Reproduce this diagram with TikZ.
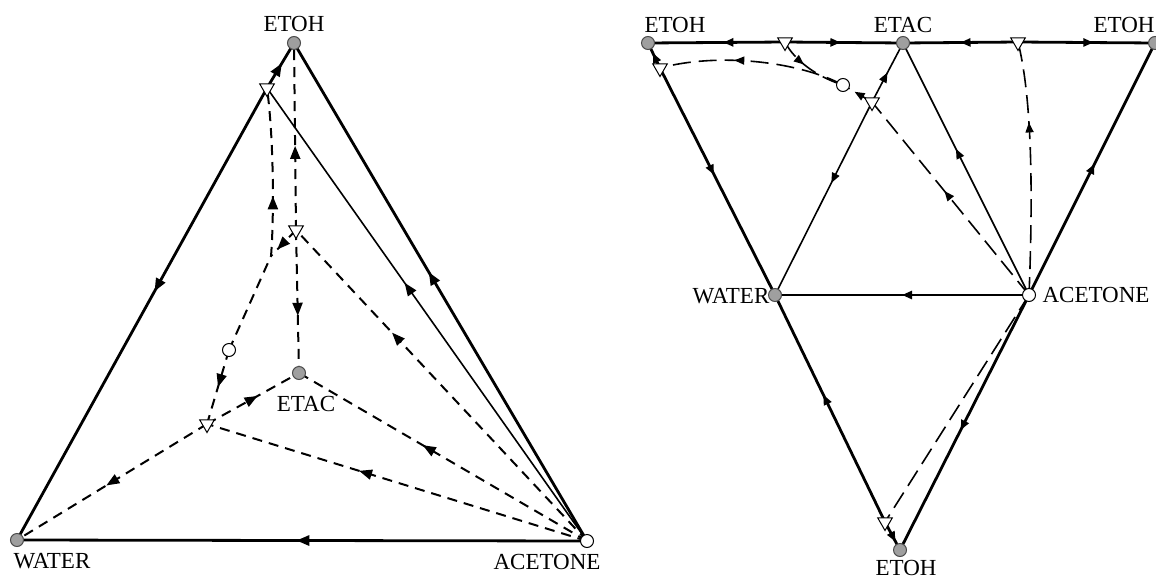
\documentclass[tikz,border=0pt]{standalone}
\usepackage{fontspec}
\setmainfont{Liberation Serif}
\usetikzlibrary{arrows.meta, shapes.geometric, decorations.markings, backgrounds}

\begin{document}
\begin{tikzpicture}[x=0.5pt, y=-0.5pt, font=\fontsize{11.5}{13}\selectfont]

		\tikzset{
			pure/.style={
					circle, draw=black!70, fill=gray!75, line width=0.5pt, inner sep=0pt, minimum size=6.5pt
				},
			azeo/.style={
					circle, draw=black, fill=white, line width=0.5pt, inner sep=0pt, minimum size=6.5pt
				},
			saddle/.style={
					regular polygon, regular polygon sides=3, shape border rotate=180, draw=black, fill=white, line width=0.5pt, inner sep=0pt, minimum size=8.5pt
				},
			tag/.style={inner sep=0pt},
			rim/.style={line width=1.4pt},
			web/.style={line width=0.8pt},
			ridge/.style={line width=1pt, dash pattern=on 5pt off 3.5pt},
			lridge/.style={line width=0.8pt, dash pattern=on 9pt off 4pt},
			flow/.style={postaction={decorate}, decoration={markings, mark=at position #1 with {\arrow{Triangle[length=6.5pt,width=5pt]}}}},
			sflow/.style={postaction={decorate}, decoration={markings, mark=at position #1 with {\arrow{Triangle[length=5pt,width=4pt]}}}},
		}
		\useasboundingbox (0,0) rectangle (1156,578);

		% left: projected tetrahedron
		\node[pure](lEtoh) at (294,43){};
		\node[pure](lWater) at (17,540){};
		\node[azeo](lAcet) at (587,541){};
		\node[pure](lEtac) at (299,373){};
		\node[saddle](lS1) at (267,88){};
		\node[saddle](lS2) at (296,230){};
		\node[saddle](lS3) at (207,424){};
		\node[azeo](lAz) at (229,350){};
		\coordinate (lJoin) at (271,256);

		\node[tag](lT1) at (294,24){ETOH};
		\node[tag](lT2) at (52,561){WATER};
		\node[tag](lT3) at (547,562){ACETONE};
		\node[tag](lT4) at (306,404){ETAC};

		% right: unfolded tetrahedron
		\node[pure](rEtohA) at (648,43){};
		\node[pure](rEtac) at (903,43){};
		\node[pure](rEtohB) at (1155,43){};
		\node[pure](rWater) at (775,295){};
		\node[azeo](rAcet) at (1029,295){};
		\node[pure](rEtohC) at (900,550){};
		\node[saddle](rS1) at (785,42){};
		\node[saddle](rS2) at (1018,42){};
		\node[saddle](rS3) at (660,68){};
		\node[saddle](rS4) at (872,102){};
		\node[saddle](rS5) at (885,522){};
		\node[azeo](rAz) at (843,85){};

		\node[tag](rT1) at (675,25){ETOH};
		\node[tag](rT2) at (903,25){ETAC};
		\node[tag](rT3) at (1124,25){ETOH};
		\node[tag](rT4) at (731,296){WATER};
		\node[tag](rT5) at (1096,295){ACETONE};
		\node[tag](rT6) at (906,568){ETOH};

		\begin{pgfonlayer}{background}
		\draw[rim, flow=0.45] (lS1.center)--(lWater.center);
		\draw[rim, flow=0.55] (lS1.center)--(lEtoh.center);
		\draw[rim, flow=0.54] (lAcet.center)--(lEtoh.center);
		\draw[web, flow=0.57] (lAcet.center)--(lS1.center);
		\draw[rim, flow=0.51] (lAcet.center)--(lWater.center);

		\draw[ridge, flow=0.45] (lS2.center)--(lEtoh.center);
		\draw[ridge, flow=0.6] (lS2.center)--(lEtac.center);
		\draw[ridge, flow=0.75] (lS2.center)--(lJoin);
		\draw[ridge, flow=0.6] (lAz.center)--(lJoin) .. controls (274,220) and (274,140) .. (lS1.center);
		\draw[ridge, flow=0.5] (lAz.center)--(lS3.center);
		\draw[ridge, flow=0.53] (lS3.center)--(lWater.center);
		\draw[ridge, flow=0.55] (lS3.center)--(lEtac.center);
		\draw[ridge, flow=0.6] (lAcet.center)--(lS3.center);
		\draw[ridge, flow=0.57] (lAcet.center)--(lEtac.center);
		\draw[ridge, flow=0.67] (lAcet.center)--(lS2.center);

		\draw[rim, sflow=0.45] (rS1.center)--(rEtohA.center);
		\draw[rim, sflow=0.47] (rS1.center)--(rEtac.center);
		\draw[rim, sflow=0.5] (rS2.center)--(rEtac.center);
		\draw[rim, sflow=0.55] (rS2.center)--(rEtohB.center);
		\draw[rim, sflow=0.6] (rS3.center)--(rEtohA.center);
		\draw[rim, sflow=0.47] (rS3.center)--(rWater.center);
		\draw[web, sflow=0.5] (rS4.center)--(rEtac.center);
		\draw[web, sflow=0.42] (rS4.center)--(rWater.center);
		\draw[web, sflow=0.58] (rAcet.center)--(rEtac.center);
		\draw[rim, sflow=0.52] (rAcet.center)--(rEtohB.center);
		\draw[rim, sflow=0.5] (rAcet.center)--(rWater.center);
		\draw[rim, sflow=0.56] (rS5.center)--(rWater.center);
		\draw[rim, sflow=0.7] (rS5.center)--(rEtohC.center);
		\draw[rim, sflow=0.53] (rAcet.center)--(rEtohC.center);

		\draw[lridge, sflow=0.4] (rS1.center) .. controls (795,62) and (820,78) .. (rAz.center);
		\draw[lridge, sflow=0.6] (rAz.center) .. controls (800,62) and (720,52) .. (rS3.center);
		\draw[lridge, sflow=0.54] (rAcet.center)--(rS4.center);
		\draw[lridge, sflow=0.6] (rS4.center)--(rAz.center);
		\draw[lridge, sflow=0.68] (rAcet.center) .. controls (1034,170) and (1030,90) .. (rS2.center);
		\draw[lridge] (rAcet.center)--(rS5.center);
		\end{pgfonlayer}

	\end{tikzpicture}
\end{document}
